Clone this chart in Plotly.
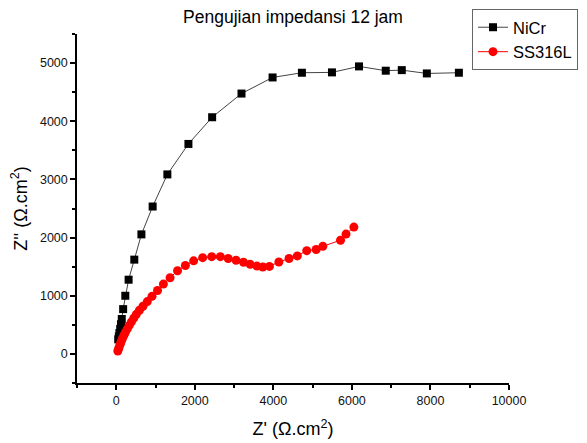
import plotly.graph_objects as go

title = "Pengujian impedansi 12 jam"

nicr_x = [50, 65, 80, 100, 120, 140, 175, 230, 314, 459, 640, 926, 1301, 1837, 2441,
          3189, 3980, 4727, 5492, 6181, 6862, 7270, 7908, 8724]
nicr_y = [250, 300, 360, 430, 510, 600, 770, 1000, 1276, 1621, 2055, 2534, 3086, 3610, 4069,
          4476, 4753, 4834, 4840, 4943, 4869, 4879, 4822, 4834]

ss_x = [40, 60, 80, 105, 130, 160, 195, 235, 280, 330, 385, 445, 510, 590, 680, 790, 910,
        1050, 1200, 1370, 1560, 1760, 1970, 2200, 2430, 2650, 2850, 3050, 3240, 3410, 3580,
        3730, 3900, 4140, 4400, 4610, 4850, 5090, 5260, 5710, 5850, 6050]
ss_y = [50, 90, 130, 175, 220, 270, 320, 375, 430, 490, 550, 615, 680, 750, 820, 900, 990,
        1090, 1200, 1310, 1430, 1520, 1600, 1655, 1672, 1672, 1640, 1610, 1575, 1540, 1510,
        1495, 1505, 1580, 1640, 1685, 1775, 1795, 1850, 1955, 2060, 2180]

fig = go.Figure()
fig.add_trace(go.Scatter(x=nicr_x, y=nicr_y, mode="lines+markers", name="NiCr",
                         line=dict(color="#444444", width=1),
                         marker=dict(symbol="square", size=8, color="black")))
fig.add_trace(go.Scatter(x=ss_x, y=ss_y, mode="lines+markers", name="SS316L",
                         line=dict(color="red", width=1),
                         marker=dict(symbol="circle", size=9, color="red")))

FONT = "Liberation Sans, Arial"
axis_common = dict(showgrid=False, zeroline=False, showline=True, linecolor="black",
                   linewidth=1.5, ticks="outside", ticklen=5, tickwidth=1.5,
                   tickcolor="black", mirror=False, automargin=False, tickformat="d",
                   tickfont=dict(family=FONT, size=12.5, color="#111"))

# page body adds an 8px offset; figure is sized/margined to compensate
W, H = 579, 435
fig.update_layout(
    width=W, height=H,
    paper_bgcolor="white", plot_bgcolor="white",
    margin=dict(l=69, r=78, t=26, b=60, autoexpand=False),
    title=dict(text=title, x=0.5, xref="paper", y=1 - 8.5 / H, yanchor="middle",
               font=dict(family=FONT, size=17.5, color="black")),
    xaxis=dict(range=[-1000, 10000], dtick=2000, tick0=0,
               minor=dict(ticks="outside", ticklen=3, tickwidth=1.5, tickcolor="black", dtick=1000),
               title=dict(text="Z' (Ω.cm<sup>2</sup>)", standoff=16,
                          font=dict(family=FONT, size=18, color="black")),
               **axis_common),
    yaxis=dict(range=[-500, 5500], dtick=1000, tick0=0,
               minor=dict(ticks="outside", ticklen=3, tickwidth=1.5, tickcolor="black", dtick=500),
               title=dict(text="Z'' (Ω.cm<sup>2</sup>)", standoff=26,
                          font=dict(family=FONT, size=18, color="black")),
               **axis_common),
    legend=dict(x=(472 - 77) / 432, y=(383 - 9) / 349, xanchor="left", yanchor="top",
                bordercolor="#666", borderwidth=1, bgcolor="white",
                font=dict(family=FONT, size=16.5, color="black"),
                tracegroupgap=0, itemwidth=30),
    showlegend=True,
)

fig.write_html("out.html")
